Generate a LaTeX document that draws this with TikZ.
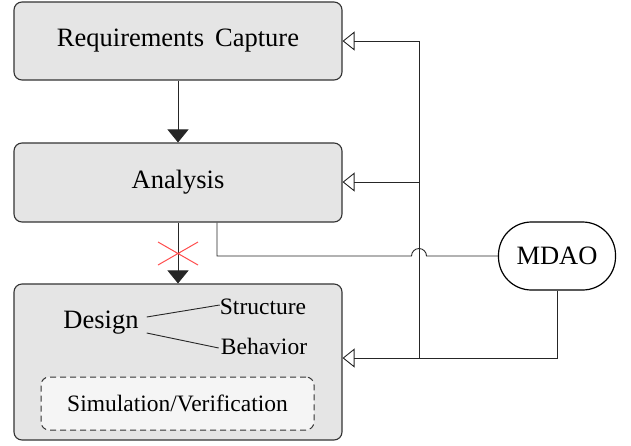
\documentclass[tikz,border=0pt]{standalone}
\usepackage{fontspec}
\setmainfont{Liberation Serif}
\usetikzlibrary{arrows.meta}
\begin{document}
\begin{tikzpicture}[x=1pt,y=-1pt,
  stage/.style={draw=black!80, line width=1.1pt, fill=black!10, rounded corners=8pt,
    minimum width=328pt, inner sep=0pt, font=\fontsize{26.5}{30}\selectfont},
  subtxt/.style={inner sep=1pt, font=\fontsize{23.5}{27}\selectfont},
  conn/.style={draw=black!85, line width=0.9pt},
  fillarrow/.style={-{Triangle[length=13pt,width=21pt]}},
  openarrow/.style={-{Triangle[open,length=12pt,width=19pt]}},
]
\useasboundingbox (0,0) rectangle (631,445);
% stages
\node[stage, minimum height=78pt] (req) at (178,41) {Requirements\, Capture};
\node[stage, minimum height=79pt] (ana) at (178,182.5) {Analysis};
\node[stage, minimum height=156pt] (des) at (178,362) {};
\node[font=\fontsize{26.5}{30}\selectfont, inner sep=1pt] (dtxt) at (101,323) {Design};
\node[subtxt] (str) at (263,307) {Structure};
\node[subtxt] (beh) at (264,346) {Behavior};
\draw[conn] ([xshift=7pt,yshift=6pt]dtxt.east) -- ([xshift=1pt,yshift=2pt]str.west);
\draw[conn] ([xshift=7pt,yshift=-10pt]dtxt.east) -- ([xshift=-1pt,yshift=-2pt]beh.west);
\node[draw=black!80, dash pattern=on 6pt off 4pt, line width=1pt, fill=black!4, rounded corners=8pt,
  minimum width=273pt, minimum height=53pt, subtxt] (sim) at (177.5,403.5) {Simulation/Verification};
% MDAO
\node[draw=black, line width=1.2pt, rounded corners=33pt, minimum width=117pt, minimum height=68pt,
  font=\fontsize{26.5}{30}\selectfont] (mdao) at (557,256) {MDAO};
% vertical flow arrows
\draw[conn, fillarrow] (req.south) -- (des.north |- ana.north);
\draw[conn, fillarrow] (ana.south) -- (des.north);
\coordinate (x) at (178,253.5);
\draw[red!70, line width=1pt] ([shift={(-20,-11.5)}]x) -- ([shift={(20,11.5)}]x)
  ([shift={(20,-11.5)}]x) -- ([shift={(-20,11.5)}]x);
% analysis to MDAO with hop
\coordinate (hopL) at (411.5,256);
\draw[conn] (ana.south -| 217,0) |- (hopL) arc[start angle=180, end angle=360, radius=7.5] -- (mdao.west);
% MDAO feedback bus
\coordinate (bus) at (419,358);
\draw[conn, openarrow] (mdao.south) |- (des.east |- bus);
\draw[conn, openarrow] (bus) |- (req.east);
\draw[conn, openarrow] (419,182) -- (ana.east |- 0,182);
\end{tikzpicture}
\end{document}
